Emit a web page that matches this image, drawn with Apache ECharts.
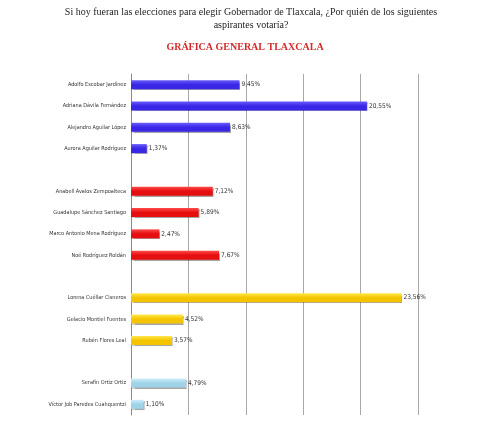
<!DOCTYPE html>
<html><head><meta charset="utf-8">
<script src="https://cdn.jsdelivr.net/npm/echarts@6/dist/echarts.min.js"></script>
<style>html,body{margin:0;padding:0;background:#fff}#c{width:480px;height:424px}</style>
</head><body><div id="c"></div>
<script>
var categories = ["Adolfo Escobar Jardínez","Adriana Dávila Fernández","Alejandro Aguilar López","Aurora Aguilar Rodríguez","",
 "Anabell Ávalos Zempoalteca","Guadalupe Sánchez Santiago","Marco Antonio Mena Rodríguez","Noé Rodríguez Roldán"," ",
 "Lorena Cuéllar Cisneros","Gelacio Montiel Fuentes","Rubén Flores Leal","  ",
 "Serafín Ortiz Ortiz","Víctor Job Paredes Cuahquentzi"];
var values = [9.45,20.55,8.63,1.37,null,7.12,5.89,2.47,7.67,null,23.56,4.52,3.57,null,4.79,1.10];
var groups = [0,0,0,0,-1,1,1,1,1,-1,2,2,2,-1,3,3];
var groupColors = [["#6a5cff","#3a26e6"],["#ff4a4a","#e60f0f"],["#ffe94a","#f5c400"],["#cdeefa","#9fd3e8"]];
var titleText = "Si hoy fueran las elecciones para elegir Gobernador de Tlaxcala, ¿Por quién de los siguientes\naspirantes votaría?";
var subtitleText = "GRÁFICA GENERAL TLAXCALA";

var chart = echarts.init(document.getElementById('c'));
var data = values.map(function(v,i){
  if (v === null) return {value: null};
  var c = groupColors[groups[i]];
  return {value: v, itemStyle: {color: new echarts.graphic.LinearGradient(0,0,0,1,[{offset:0,color:c[0]},{offset:0.5,color:c[1]},{offset:1,color:c[1]}]),
    shadowColor:'rgba(0,0,0,0.35)', shadowBlur:1, shadowOffsetX:1, shadowOffsetY:1}};
});
var lblFont = '"Liberation Sans Narrow", "DejaVu Sans Condensed", sans-serif';
chart.setOption({
  animation:false,
  title:[{text:titleText,left:246,top:1,textAlign:'center',textStyle:{fontFamily:'Liberation Serif',fontSize:10,fontWeight:'normal',color:'#222',lineHeight:13}},
         {text:subtitleText,left:240,top:37,textAlign:'center',textStyle:{fontFamily:'Liberation Serif',fontSize:10,fontWeight:'bold',color:'#d42a2a'}}],
  grid:{left:131,right:62,top:74,height:341,containLabel:false},
  xAxis:{type:'value',min:0,max:25,interval:5,axisLabel:{show:false},axisLine:{show:false},axisTick:{show:false},
    splitLine:{show:true,lineStyle:{color:'#a8a8a8',width:1}}},
  yAxis:{type:'category',data:categories,inverse:true,axisTick:{show:false},
    axisLine:{show:true,lineStyle:{color:'#8a8a8a'}},
    axisLabel:{fontFamily:lblFont,fontSize:5.5,color:'#333',margin:5}},
  series:[{type:'bar',data:data,barWidth:9,
    label:{show:true,position:'right',distance:2,fontFamily:lblFont,fontSize:6.5,color:'#333',
      formatter:function(p){return p.value==null?'':p.value.toFixed(2).replace('.',',')+'%';}}}]
});
</script></body></html>
